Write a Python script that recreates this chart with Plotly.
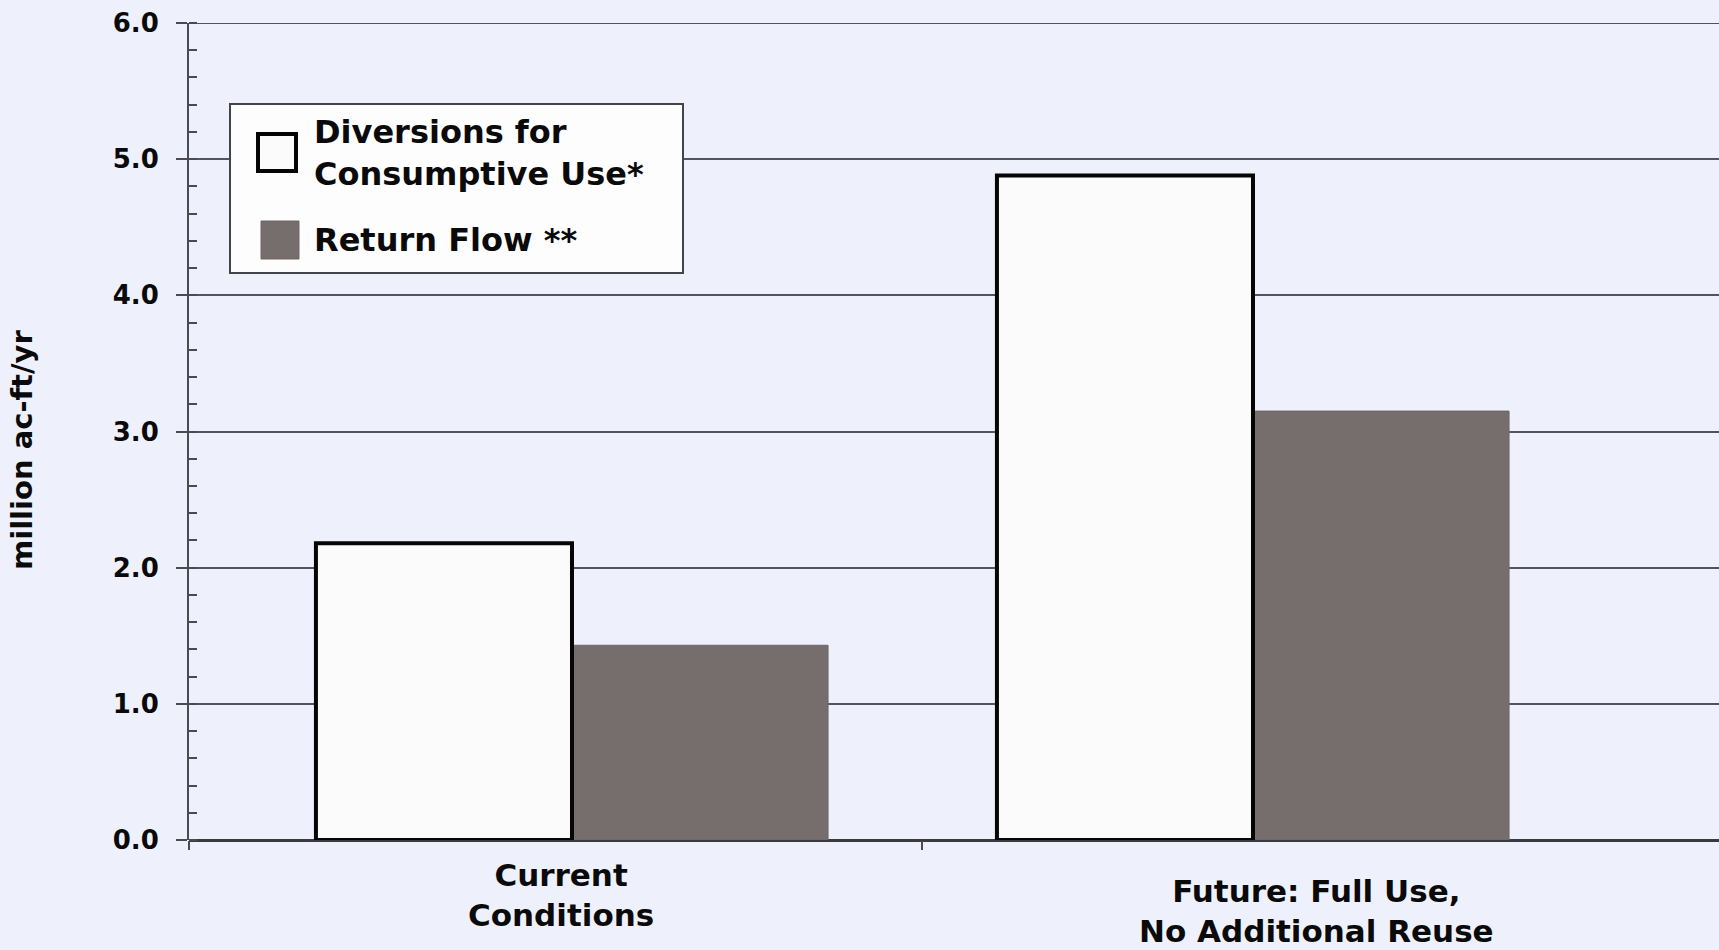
import plotly.graph_objects as go

# ---- data ----
categories = ["Current<br>Conditions", "Future: Full Use,<br>No Additional Reuse"]
diversions = [2.18, 4.88]
return_flow = [1.43, 3.15]
series_names = ["Diversions for<br>Consumptive Use*", "Return Flow **"]
y_title = "million ac-ft/yr"
y_tickvals = [0, 1, 2, 3, 4, 5, 6]
y_ticktext = ["0.0", "1.0", "2.0", "3.0", "4.0", "5.0", "6.0"]

# ---- styling ----
BG = "#EEF1FC"
GRID = "#50555F"
AXIS = "#4A4A50"
WHITE_BAR = "#FBFBFB"
GRAY_BAR = "#766E6C"
FONT = "DejaVu Sans"
TXT = "#0A0A0A"

W, H = 1719, 950
L, R, T, B = 189, 0, 23, 110
PW, PH = W - L - R, H - T - B

BAR_W = 0.376
X_RANGE = [-0.5624, 1.6843]
Y_RANGE = [0, 6]


def px_x(px):
    return (px - L) / PW


def px_y(py):
    return (H - B - py) / PH


xpos = list(range(len(categories)))

fig = go.Figure()

# return flow first so the outlined diversion bars sit on top
fig.add_trace(go.Bar(
    x=xpos, y=return_flow, name=series_names[1],
    offset=0, width=BAR_W,
    marker=dict(color=GRAY_BAR, line=dict(color="#6A6767", width=1)),
    showlegend=False,
))
fig.add_trace(go.Bar(
    x=xpos, y=diversions, name=series_names[0],
    offset=-BAR_W, width=BAR_W,
    marker=dict(color=WHITE_BAR, line=dict(color="#050505", width=4)),
    showlegend=False,
))

shapes = []
annotations = []

# gridline along the top of the value range (plotly skips the edge grid)
shapes.append(dict(type="line", xref="paper", yref="y",
                   x0=px_x(178), x1=1, y0=Y_RANGE[1], y1=Y_RANGE[1],
                   line=dict(color=GRID, width=2), layer="below"))

# legend box
shapes.append(dict(type="rect", xref="paper", yref="paper",
                   x0=px_x(230), x1=px_x(683), y0=px_y(273), y1=px_y(104),
                   fillcolor="#FDFDFD", line=dict(color="#444448", width=2),
                   layer="above"))
# legend swatches
shapes.append(dict(type="rect", xref="paper", yref="paper",
                   x0=px_x(258), x1=px_x(296), y0=px_y(171), y1=px_y(134),
                   fillcolor=WHITE_BAR, line=dict(color="#050505", width=4),
                   layer="above"))
shapes.append(dict(type="rect", xref="paper", yref="paper",
                   x0=px_x(261), x1=px_x(299), y0=px_y(259), y1=px_y(221),
                   fillcolor=GRAY_BAR, line=dict(color="#6A6767", width=1),
                   layer="above"))
for name, cy in zip(series_names, [153, 240]):
    annotations.append(dict(
        text=name, xref="paper", yref="paper",
        x=px_x(312), y=px_y(cy), xanchor="left", yanchor="middle",
        align="left", showarrow=False,
        font=dict(family=FONT, size=32, color=TXT, weight="bold"),
    ))

# category labels under the axis
for xi, lab, dx, cy in zip(xpos, categories, [-11, 64], [895, 911]):
    annotations.append(dict(
        text=lab, xref="x", yref="paper", x=xi, xshift=dx,
        y=px_y(cy), xanchor="center", yanchor="middle",
        align="center", showarrow=False,
        font=dict(family=FONT, size=31, color=TXT, weight="bold"),
    ))

# y-axis title
annotations.append(dict(
    text=y_title, xref="paper", yref="paper",
    x=px_x(22), y=px_y(450), xanchor="center", yanchor="middle",
    textangle=-90, showarrow=False,
    font=dict(family=FONT, size=29, color=TXT, weight="bold"),
))

fig.update_layout(
    width=W, height=H, autosize=False,
    margin=dict(l=L, r=R, t=T, b=B, pad=0),
    paper_bgcolor=BG, plot_bgcolor=BG,
    barmode="overlay",
    shapes=shapes, annotations=annotations,
    xaxis=dict(
        range=X_RANGE, showgrid=False, zeroline=False, showline=False,
        tickmode="array", tickvals=[X_RANGE[0], 0.514], ticktext=["", ""],
        ticks="outside", ticklen=9, tickwidth=2, tickcolor=AXIS,
        fixedrange=True,
    ),
    yaxis=dict(
        range=Y_RANGE, tickmode="array", tickvals=y_tickvals, ticktext=y_ticktext,
        ticks="outside", ticklen=11, tickwidth=2, tickcolor=AXIS,
        ticklabelstandoff=12,
        tickfont=dict(family=FONT, size=26, color=TXT, weight="bold"),
        showgrid=True, gridcolor=GRID, gridwidth=2,
        zeroline=True, zerolinecolor="#3A3A40", zerolinewidth=2.5,
        showline=True, linecolor=AXIS, linewidth=2,
        minor=dict(dtick=0.2, ticks="inside", ticklen=8, tickwidth=2,
                   tickcolor=AXIS, showgrid=False),
        fixedrange=True,
    ),
)

fig.write_html("out.html")
